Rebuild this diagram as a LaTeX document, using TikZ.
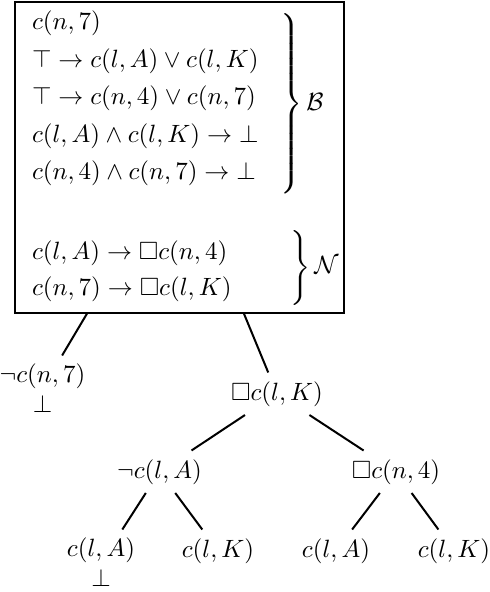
\documentclass[tikz,border=0pt]{standalone}
\usepackage{amssymb}
\begin{document}
\begin{tikzpicture}[x=0.4pt,y=-0.4pt,
  every node/.style={inner sep=0pt, outer sep=0pt},
  tn/.style={inner sep=3.5pt, align=center},
  line/.style={anchor=base west},
  edge/.style={line width=0.8pt},
  boxst/.style={draw, line width=1pt, minimum width=131.6pt, minimum height=124.4pt}]
\useasboundingbox (0,0) rectangle (490,592);
\node[boxst] (box) at (179.5,157.5) {};
\node[line] (b1) at (32,30) {$c(n,7)$};
\node[line] (b2) at (32,67.5) {$\top\to c(l,A)\vee c(l,K)$};
\node[line] (b3) at (32,105) {$\top\to c(n,4)\vee c(n,7)$};
\node[line] (b4) at (32,142.5) {$c(l,A)\wedge c(l,K)\to\bot$};
\node[line] (b5) at (32,180) {$c(n,4)\wedge c(n,7)\to\bot$};
\node[line] (n1) at (32,260) {$c(l,A)\to\Box c(n,4)$};
\node[line] (n2) at (32,295) {$c(n,7)\to\Box c(l,K)$};
\node[line] (bb) at (277,110.25) {$\left.\vrule height 38.5pt depth 33.5pt width 0pt\right\}\mathcal{B}$};
\node[line] (nb) at (287,273.75) {$\left.\vrule height 17.5pt depth 12.5pt width 0pt\right\}\mathcal{N}$};
\node[tn] (nc7) at (42.5,388.6) {$\neg c(n,7)$\\$\bot$};
\node[tn] (bK) at (277,393.75) {$\Box c(l,K)$};
\node[tn] (nlA) at (159.5,471.75) {$\neg c(l,A)$};
\node[tn] (bn4) at (396,471.75) {$\Box c(n,4)$};
\node[tn] (lA1) at (101,562.6) {$c(l,A)$\\$\bot$};
\node[tn] (lK1) at (218,550.75) {$c(l,K)$};
\node[tn] (lA2) at (336,550.75) {$c(l,A)$};
\node[tn] (lK2) at (454,550.75) {$c(l,K)$};
\draw[edge] (box) -- (nc7);
\draw[edge] (box) -- (bK);
\draw[edge] (bK) -- (nlA);
\draw[edge] (bK) -- (bn4);
\draw[edge] (nlA) -- (lA1);
\draw[edge] (nlA) -- (lK1);
\draw[edge] (bn4) -- (lA2);
\draw[edge] (bn4) -- (lK2);
\end{tikzpicture}
\end{document}
